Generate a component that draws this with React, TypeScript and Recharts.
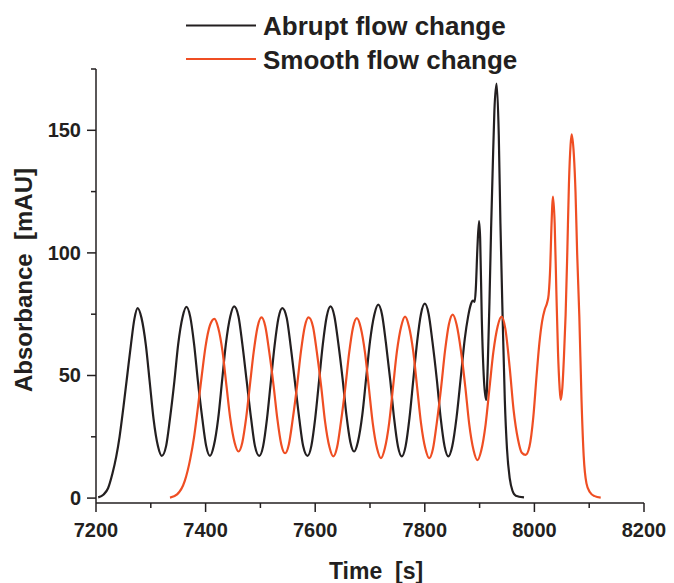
import React from 'react';
import { Line, LineChart, XAxis, YAxis, Label } from 'recharts';

// abrupt flow change trace (black)
const abruptTime = [
  7204, 7214, 7222, 7230, 7237, 7243, 7250, 7257, 7264, 7270, 7276,
  7283, 7291, 7298, 7305, 7313, 7320,
  7328, 7335, 7343, 7350, 7358, 7365,
  7372, 7379, 7386, 7394, 7401, 7408,
  7415, 7423, 7430, 7437, 7445, 7452,
  7460, 7467, 7475, 7483, 7490, 7498,
  7505, 7512, 7519, 7526, 7533, 7540,
  7548, 7555, 7563, 7571, 7578, 7586,
  7593, 7600, 7607, 7614, 7621, 7628,
  7635, 7642, 7650, 7657, 7664, 7671,
  7678, 7686, 7693, 7700, 7708, 7715,
  7722, 7729, 7737, 7744, 7751, 7758,
  7765, 7772, 7779, 7786, 7793, 7800,
  7807, 7814, 7822, 7829, 7836, 7843,
  7850, 7858, 7866, 7873, 7879, 7884, 7888, 7891, 7893, 7896, 7899, 7901, 7904, 7908, 7912,
  7915, 7918, 7921, 7924, 7927, 7931, 7935, 7938, 7942, 7946, 7950, 7955, 7960, 7966, 7981
];
const abruptAbs = [
  0.3, 1.5, 4, 10, 17, 25, 37, 50, 63, 73, 77.5,
  73.5, 62.4, 47.4, 32.3, 21.2, 17.2,
  21.3, 32.4, 47.6, 62.8, 73.9, 78,
  73.9, 62.8, 47.6, 32.4, 21.3, 17.2,
  21.3, 32.5, 47.7, 62.9, 74.1, 78.2,
  74.1, 62.9, 47.7, 32.5, 21.3, 17.2,
  21.2, 32.3, 47.4, 62.4, 73.5, 77.5,
  73.5, 62.4, 47.4, 32.3, 21.2, 17.2,
  21.3, 32.5, 47.7, 62.9, 74.1, 78.2,
  74.2, 63.4, 48.6, 33.8, 23, 19,
  23, 34, 49, 63.9, 74.9, 78.9,
  74.8, 63.4, 48, 32.5, 21.1, 17,
  21.2, 32.6, 48.2, 63.7, 75.1, 79.3,
  75.1, 63.7, 48.2, 32.6, 21.2, 17,
  21, 33, 50, 65, 74, 79, 80.5, 80, 85, 102, 113, 106, 73, 48, 40,
  55, 80, 110, 135, 158, 169, 148, 112, 74, 40, 20, 8, 3, 1, 0.3
];

// smooth flow change trace (red)
const smoothTime = [
  7335, 7348, 7362, 7372, 7379, 7386, 7393, 7400, 7408, 7416,
  7423, 7431, 7438, 7445, 7453, 7460,
  7467, 7474, 7481, 7488, 7495, 7502,
  7509, 7516, 7524, 7531, 7538, 7545,
  7552, 7559, 7567, 7574, 7581, 7588,
  7596, 7603, 7611, 7618, 7626, 7633,
  7640, 7647, 7655, 7662, 7669, 7676,
  7683, 7691, 7698, 7705, 7713, 7720,
  7727, 7735, 7742, 7749, 7757, 7764,
  7771, 7779, 7786, 7793, 7801, 7808,
  7815, 7822, 7830, 7837, 7844, 7851,
  7858, 7866, 7874, 7881, 7889, 7896,
  7903, 7911, 7918, 7925, 7933, 7940,
  7947, 7955, 7962, 7970, 7977, 7984,
  7991, 7998, 8004, 8009, 8014, 8019, 8023, 8026, 8029, 8031, 8034, 8037, 8040, 8043, 8046, 8048,
  8051, 8054, 8057, 8060, 8063, 8066, 8068, 8072, 8075, 8078, 8082, 8086, 8090, 8095, 8101, 8110, 8121
];
const smoothAbs = [
  0.2, 1.5, 7, 16, 25, 37, 50, 62, 70.5, 73.1,
  69.5, 59.6, 46, 32.5, 22.6, 19,
  22.7, 32.7, 46.4, 60, 70, 73.7,
  70, 59.8, 46, 32.2, 22, 18.3,
  22, 32.2, 46, 59.8, 70, 73.7,
  69.9, 59.5, 45.4, 31.2, 20.8, 17,
  20.8, 31.1, 45.2, 59.3, 69.6, 73.4,
  69.6, 59.1, 44.9, 30.6, 20.1, 16.3,
  20.2, 30.7, 45.2, 59.6, 70.1, 74,
  70.1, 59.6, 45.2, 30.7, 20.2, 16.3,
  20.2, 30.9, 45.6, 60.2, 70.9, 74.8,
  70.8, 60, 45.2, 30.3, 19.5, 15.5,
  19.4, 30.1, 44.8, 59.4, 70.1, 74,
  69, 53, 36, 24, 18.5, 17.6,
  21, 33, 50, 63, 72, 77, 79.5, 83, 95, 110, 123, 112, 85, 60, 45, 40,
  45, 58, 75, 100, 128, 144, 148.3, 140, 125, 100, 74, 40, 17, 6, 2.5, 0.8, 0.2
];

const xTicks = [7200, 7300, 7400, 7500, 7600, 7700, 7800, 7900, 8000, 8100, 8200];
const yTicks = [0, 25, 50, 75, 100, 125, 150, 175];

const seriesNames = ['Abrupt flow change', 'Smooth flow change'];

const INK = '#231f20';
const RED = '#ef4e23';
const FONT = '"Liberation Sans", Arial, Helvetica, sans-serif';

const abrupt = abruptTime.map((t, i) => ({ t, v: abruptAbs[i] }));
const smooth = smoothTime.map((t, i) => ({ t, v: smoothAbs[i] }));

const XTick = (props: any) => {
  const { x, y, payload } = props;
  const major = payload.value % 200 === 0;
  return (
    <g>
      <line x1={x} x2={x} y1={y} y2={y + (major ? 9 : 5)} stroke={INK} strokeWidth={1.5} />
      {major && (
        <text x={x} y={y + 33.5} textAnchor="middle" fontFamily={FONT} fontWeight="bold" fontSize={20} fill={INK}>
          {payload.value}
        </text>
      )}
    </g>
  );
};

const YTick = (props: any) => {
  const { x, y, payload } = props;
  const major = payload.value % 50 === 0;
  return (
    <g>
      <line x1={x} x2={x - (major ? 9 : 5)} y1={y} y2={y} stroke={INK} strokeWidth={1.5} />
      {major && (
        <text x={x - 15} y={y + 7} textAnchor="end" fontFamily={FONT} fontWeight="bold" fontSize={20} fill={INK}>
          {payload.value}
        </text>
      )}
    </g>
  );
};

const Legend = () => (
  <svg width={674} height={80} style={{ position: 'absolute', left: 0, top: 0, pointerEvents: 'none' }}>
    {seriesNames.map((name, i) => {
      const cy = i === 0 ? 25.5 : 59;
      return (
        <g key={name}>
          <line x1={186} x2={256} y1={cy} y2={cy} stroke={i === 0 ? INK : RED} strokeWidth={2.2} />
          <text x={263} y={cy + 9.5} fontFamily={FONT} fontWeight="bold" fontSize={26} fill={INK}>
            {name}
          </text>
        </g>
      );
    })}
  </svg>
);

export default function App() {
  return (
    <div style={{ position: 'absolute', left: 0, top: 0, width: 674, height: 583, background: '#fff' }}>
      <LineChart width={674} height={583} margin={{ top: 69, right: 30, bottom: 0, left: 0 }}>
        <XAxis
          type="number"
          dataKey="t"
          domain={[7200, 8200]}
          ticks={xTicks}
          interval={0}
          height={80}
          axisLine={{ stroke: INK, strokeWidth: 1.5 }}
          tickLine={false}
          tickSize={0}
          tickMargin={0}
          tick={<XTick />}
        >
          <Label
            content={() => (
              <text x={376} y={579} textAnchor="middle" fontFamily={FONT} fontWeight="bold" fontSize={23} fill={INK} style={{ whiteSpace: 'pre' }}>
                {'Time  [s]'}
              </text>
            )}
          />
        </XAxis>
        <YAxis
          type="number"
          domain={[-2, 175]}
          ticks={yTicks}
          interval={0}
          width={96}
          axisLine={{ stroke: INK, strokeWidth: 1.5 }}
          tickLine={false}
          tickSize={0}
          tickMargin={0}
          tick={<YTick />}
        >
          <Label
            content={() => (
              <text
                transform="translate(32,280) rotate(-90)"
                textAnchor="middle"
                fontFamily={FONT}
                fontWeight="bold"
                fontSize={24}
                fill={INK}
                style={{ whiteSpace: 'pre' }}
              >
                {'Absorbance  [mAU]'}
              </text>
            )}
          />
        </YAxis>
        <Line data={abrupt} dataKey="v" type="monotone" stroke={INK} strokeWidth={2.2} dot={false} isAnimationActive={false} />
        <Line data={smooth} dataKey="v" type="monotone" stroke={RED} strokeWidth={2.2} dot={false} isAnimationActive={false} />
      </LineChart>
      <Legend />
    </div>
  );
}
